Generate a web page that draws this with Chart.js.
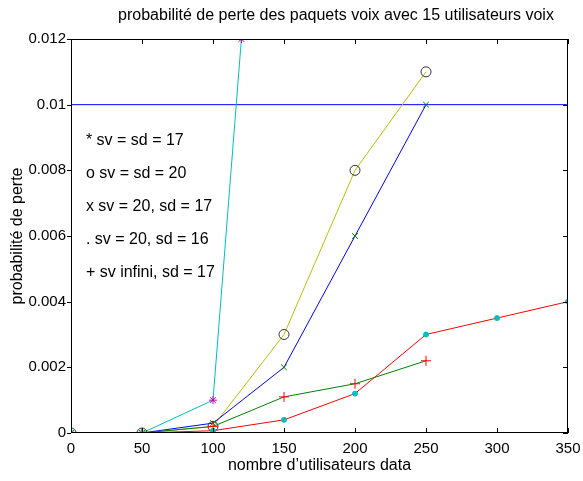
<!DOCTYPE html>
<html>
<head>
<meta charset="utf-8">
<script src="https://cdn.jsdelivr.net/npm/chart.js@4/dist/chart.umd.min.js"></script>
<style>
  html, body { margin: 0; padding: 0; background: #fff; }
  #wrap { width: 583px; height: 481px; }
</style>
</head>
<body>
<div id="wrap"><canvas id="lossChart" width="583" height="481"></canvas></div>
<script>
// --- data ---
const xSv17 = [0, 50, 100, 120];
const ySv17 = [0, 0, 0.001, 0.012];

const xSv20 = [0, 50, 100, 150, 200, 250];
const ySv20 = [0, 0, 0.0002, 0.003, 0.008, 0.011];

const xSv20Sd17 = [0, 50, 100, 150, 200, 250];
const ySv20Sd17 = [0, 0, 0.0003, 0.002, 0.006, 0.01];

const xSv20Sd16 = [0, 50, 100, 150, 200, 250, 300, 350];
const ySv20Sd16 = [0, 0, 0.00007, 0.0004, 0.0012, 0.003, 0.0035, 0.004];

const xSvInf = [0, 50, 100, 150, 200, 250];
const ySvInf = [0, 0, 0.0002, 0.0011, 0.0015, 0.0022];

const xLimit = [0, 350];
const yLimit = [0.01, 0.01];

const xTicks = [0, 50, 100, 150, 200, 250, 300, 350];
const yTicks = [0, 0.002, 0.004, 0.006, 0.008, 0.01, 0.012];
const yTickLabels = ['0', '0.002', '0.004', '0.006', '0.008', '0.01', '0.012'];

const notes = ['* sv = sd = 17', 'o sv = sd = 20', 'x sv = 20, sd = 17', '. sv = 20, sd = 16', '+ sv infini, sd = 17'];
const noteY = [0.0089, 0.0079, 0.0069, 0.0059, 0.0049];

const titleText = 'probabilité de perte des paquets voix avec 15 utilisateurs voix';
const xTitle = 'nombre d\u2019utilisateurs data';
const yTitle = 'probabilité de perte';

const FONT = '"Liberation Sans", Arial, sans-serif';

function pts(xs, ys) {
  return xs.map((x, i) => ({ x: x, y: ys[i] }));
}

// frame, inward ticks and the text bits
const decor = {
  id: 'decor',
  afterDatasetsDraw(chart) {
    const { ctx, chartArea: a, scales } = chart;
    const xs = scales.x, ys = scales.y;
    ctx.save();
    ctx.strokeStyle = '#000';
    ctx.lineWidth = 1;
    ctx.strokeRect(a.left + 0.5, a.top + 0.5, a.right - a.left - 1, a.bottom - a.top - 1);
    ctx.beginPath();
    xTicks.forEach(v => {
      const px = Math.round(xs.getPixelForValue(v)) + 0.5;
      ctx.moveTo(px, a.bottom); ctx.lineTo(px, a.bottom - 5);
      ctx.moveTo(px, a.top); ctx.lineTo(px, a.top + 5);
    });
    yTicks.forEach(v => {
      const py = Math.round(ys.getPixelForValue(v)) + 0.5;
      ctx.moveTo(a.left - 4, py); ctx.lineTo(a.left, py);
      ctx.moveTo(a.right, py); ctx.lineTo(a.right - 5, py);
    });
    ctx.stroke();

    ctx.fillStyle = '#000';
    ctx.font = '16px ' + FONT;
    ctx.textAlign = 'left';
    ctx.textBaseline = 'middle';
    notes.forEach((t, i) => {
      ctx.fillText(t, xs.getPixelForValue(10.5), ys.getPixelForValue(noteY[i]));
    });

    ctx.textAlign = 'center';
    ctx.fillText(titleText, 336, 16);
    ctx.fillText(xTitle, (a.left + a.right) / 2, 466);

    ctx.translate(18, (a.top + a.bottom) / 2);
    ctx.rotate(-Math.PI / 2);
    ctx.fillText(yTitle, 0, 0);
    ctx.restore();
  }
};

const base = { borderWidth: 1, tension: 0, fill: false, pointBorderWidth: 1, pointHoverRadius: 0 };

new Chart(document.getElementById('lossChart'), {
  type: 'line',
  data: {
    datasets: [
      Object.assign({}, base, {
        data: pts(xLimit, yLimit), borderColor: '#0000ff', pointRadius: 0, order: 6
      }),
      Object.assign({}, base, {
        data: pts(xSv17, ySv17), borderColor: '#00bfbf',
        pointStyle: 'star', pointRadius: 4, pointBorderColor: '#bf00bf', pointBackgroundColor: '#bf00bf', order: 5
      }),
      Object.assign({}, base, {
        data: pts(xSv20, ySv20), borderColor: '#bfbf00',
        pointStyle: 'circle', pointRadius: 5, pointBorderColor: '#333333', pointBackgroundColor: 'rgba(0,0,0,0)', order: 4
      }),
      Object.assign({}, base, {
        data: pts(xSv20Sd17, ySv20Sd17), borderColor: '#0000ff',
        pointStyle: 'crossRot', pointRadius: 4, pointBorderColor: '#008000', order: 3
      }),
      Object.assign({}, base, {
        data: pts(xSvInf, ySvInf), borderColor: '#008000',
        pointStyle: 'cross', pointRadius: 5, pointBorderColor: '#ff0000', order: 2
      }),
      Object.assign({}, base, {
        data: pts(xSv20Sd16, ySv20Sd16), borderColor: '#ff0000',
        pointStyle: 'circle', pointRadius: 2.5, pointBorderColor: '#00bfbf', pointBackgroundColor: '#00bfbf', order: 1
      })
    ]
  },
  options: {
    responsive: false,
    animation: false,
    events: [],
    layout: { padding: { left: 0, right: 15, top: 39, bottom: 0 } },
    plugins: { legend: { display: false }, tooltip: { enabled: false }, title: { display: false } },
    scales: {
      x: {
        type: 'linear', min: 0, max: 350,
        afterFit: s => { s.height = 48; s.paddingLeft = 0; s.paddingRight = 0; },
        afterBuildTicks: s => { s.ticks = xTicks.map(v => ({ value: v })); },
        grid: { display: false, drawTicks: false },
        border: { display: false },
        ticks: { padding: 7, color: '#000', font: { family: FONT, size: 15 }, maxRotation: 0 }
      },
      y: {
        type: 'linear', min: 0, max: 0.012,
        afterFit: s => { s.width = 71; s.paddingTop = 0; s.paddingBottom = 0; },
        afterBuildTicks: s => { s.ticks = yTicks.map(v => ({ value: v })); },
        grid: { display: false, drawTicks: false },
        border: { display: false },
        ticks: {
          padding: 5, color: '#000', font: { family: FONT, size: 15 },
          callback: (v, i) => yTickLabels[i]
        }
      }
    }
  },
  plugins: [decor]
});
</script>
</body>
</html>
